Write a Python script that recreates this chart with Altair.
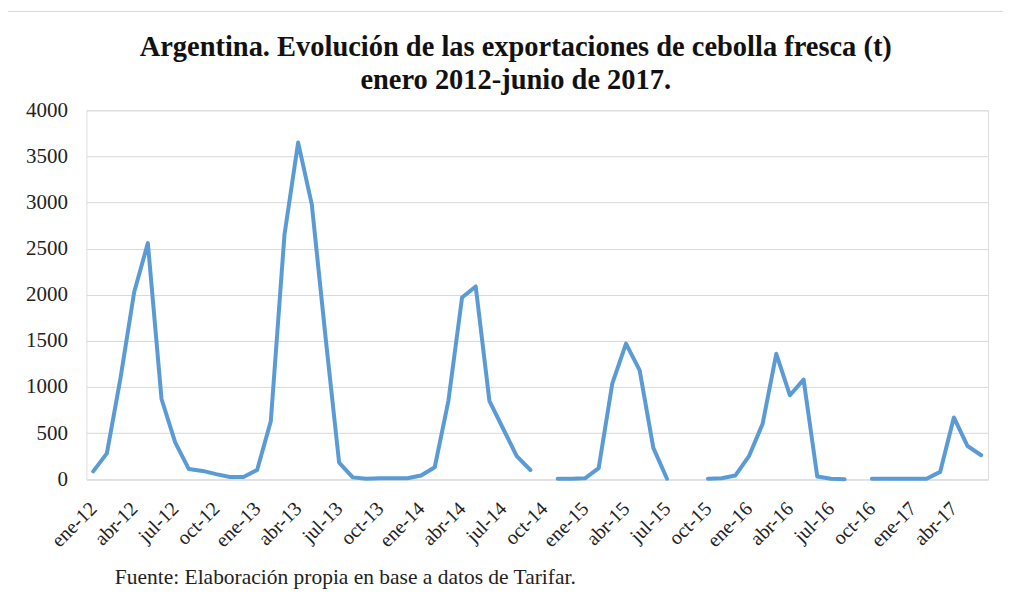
import altair as alt
import pandas as pd

# Categories (months) and values (t)
month_abbr = ["ene", "feb", "mar", "abr", "may", "jun", "jul", "ago", "sep", "oct", "nov", "dic"]
years = ["12", "13", "14", "15", "16", "17"]
months = [f"{m}-{y}" for y in years for m in month_abbr][:66]

exports = [
    85, 280, 1100, 2030, 2560, 870, 400, 110, 90, 55, 25, 25,          # 2012
    100, 630, 2650, 3650, 2980, 1550, 180, 20, 5, 10, 10, 10,           # 2013
    40, 130, 850, 1970, 2090, 850, 550, 250, 100, None, 5, 5,           # 2014
    10, 120, 1040, 1470, 1180, 340, 5, None, None, 5, 10, 40,           # 2015
    250, 600, 1360, 910, 1080, 30, 5, 0, None, 5, 5, 5,                 # 2016
    5, 5, 80, 670, 360, 260,                                            # 2017 (ene-jun)
]

tick_labels = months[::3]
y_ticks = [0, 500, 1000, 1500, 2000, 2500, 3000, 3500, 4000]

title_text = ("Argentina. Evolución de las exportaciones de cebolla fresca (t)\n"
              "enero 2012-junio de 2017.")
source_text = "Fuente: Elaboración propia en base a datos de Tarifar."

df = pd.DataFrame({"mes": months, "t": exports})

FONT = "Liberation Serif"

line = alt.Chart(df).mark_line(
    color="#5B9BD5", strokeWidth=4, strokeJoin="round", strokeCap="round",
    invalid="break-paths-show-domains"
).encode(
    x=alt.X("mes:O", sort=months,
            scale=alt.Scale(type="point", domain=months, padding=0.5),
            axis=alt.Axis(values=tick_labels, title=source_text, labelAngle=-45,
                          labelAlign="right", labelBaseline="middle", labelPadding=26,
                          labelFontSize=20, labelFont=FONT, labelColor="#222222",
                          ticks=False, domain=False, grid=False,
                          titleFont=FONT, titleFontSize=21.5, titleFontWeight="normal",
                          titleColor="#222222", titleAlign="left", titleBaseline="middle",
                          titleAnchor="start", titleX=28, titleY=98)),
    y=alt.Y("t:Q", scale=alt.Scale(domain=[0, 4000], nice=False),
            axis=alt.Axis(values=y_ticks, format="d", title=None, labelFontSize=21,
                          labelFont=FONT, labelColor="#222222", labelPadding=19,
                          ticks=False, domain=False,
                          grid=True, gridColor="#D9D9D9", gridWidth=1)),
)

single = pd.DataFrame({"a": [0]})

frame = alt.Chart(single).mark_rect(
    fill="transparent", stroke="#D9D9D9", strokeWidth=1
).encode(
    x=alt.value(-79), x2=alt.value(926), y=alt.value(-99), y2=alt.value(487)
)

title = alt.Chart(single).mark_text(
    font=FONT, fontSize=28.5, fontWeight="bold", color="#111111",
    align="center", baseline="middle", lineBreak="\n", lineHeight=33
).encode(
    x=alt.value(430), y=alt.value(-63.5), text=alt.value(title_text)
)

chart = alt.layer(frame, title, line).properties(
    width=903, height=369.5,
    padding={"left": 78.5, "top": 102, "right": 15, "bottom": 112},
    autosize="none",
).configure_view(stroke=None).configure(background="white")

chart.save("out.html", embed_options={"renderer": "svg", "actions": False})
